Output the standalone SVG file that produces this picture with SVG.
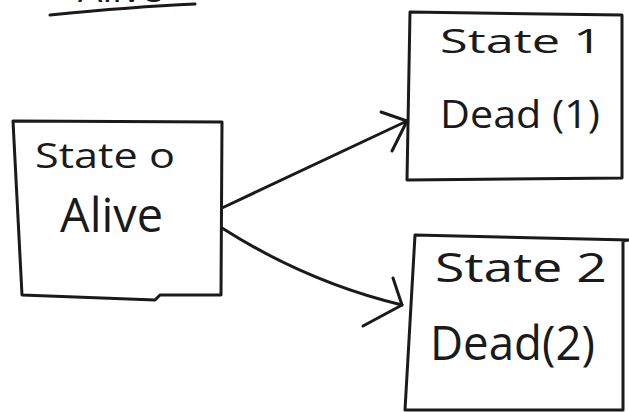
<svg xmlns="http://www.w3.org/2000/svg" width="629" height="412" viewBox="0 0 629 412">
<defs>
<style>
.box{fill:#fff;stroke:#1a1a1a;stroke-width:3;stroke-linejoin:round;stroke-linecap:round}
.ln{fill:none;stroke:#1a1a1a;stroke-width:3;stroke-linecap:round;stroke-linejoin:round}
.t{font-family:"Open Sans","DejaVu Sans",sans-serif;fill:#1a1a1a}
</style>
</defs>
<rect width="629" height="412" fill="#fff"/>
<g id="title">
<text class="t" x="78" y="2" font-size="34" textLength="85" lengthAdjust="spacingAndGlyphs">Alive</text>
<path class="ln" d="M50,15 C100,10 150,6 195,4"/>
</g>
<g id="connectors">
<path class="ln" d="M222,208 L407,121"/>
<path class="ln" d="M381,112 L407,121 L392,151"/>
<path class="ln" d="M222,228 C280,265 340,290 402,305"/>
<path class="ln" d="M393,278 L402,305 L363,326"/>
</g>
<g id="state0">
<path class="box" d="M13,121 L222,122 L221,295 L160,295 L155,300 L22,295 Z"/>
<text class="t" x="35" y="168" font-size="34" textLength="140" lengthAdjust="spacingAndGlyphs">State o</text>
<text class="t" x="60" y="232" font-size="48" textLength="103" lengthAdjust="spacingAndGlyphs">Alive</text>
</g>
<g id="state1">
<path class="box" d="M410,12 L622,15 L622,178 L407,180 Z"/>
<text class="t" x="440" y="53" font-size="33" textLength="162" lengthAdjust="spacingAndGlyphs">State 1</text>
<text class="t" x="440" y="128" font-size="38" textLength="160" lengthAdjust="spacingAndGlyphs">Dead (1)</text>
</g>
<g id="state2">
<path class="box" d="M415,235 L629,240 L623,241 L623,410 L405,410 Z"/>
<text class="t" x="435" y="282" font-size="40" textLength="172" lengthAdjust="spacingAndGlyphs">State 2</text>
<text class="t" x="430" y="360" font-size="48" textLength="165" lengthAdjust="spacingAndGlyphs">Dead(2)</text>
</g>
</svg>
